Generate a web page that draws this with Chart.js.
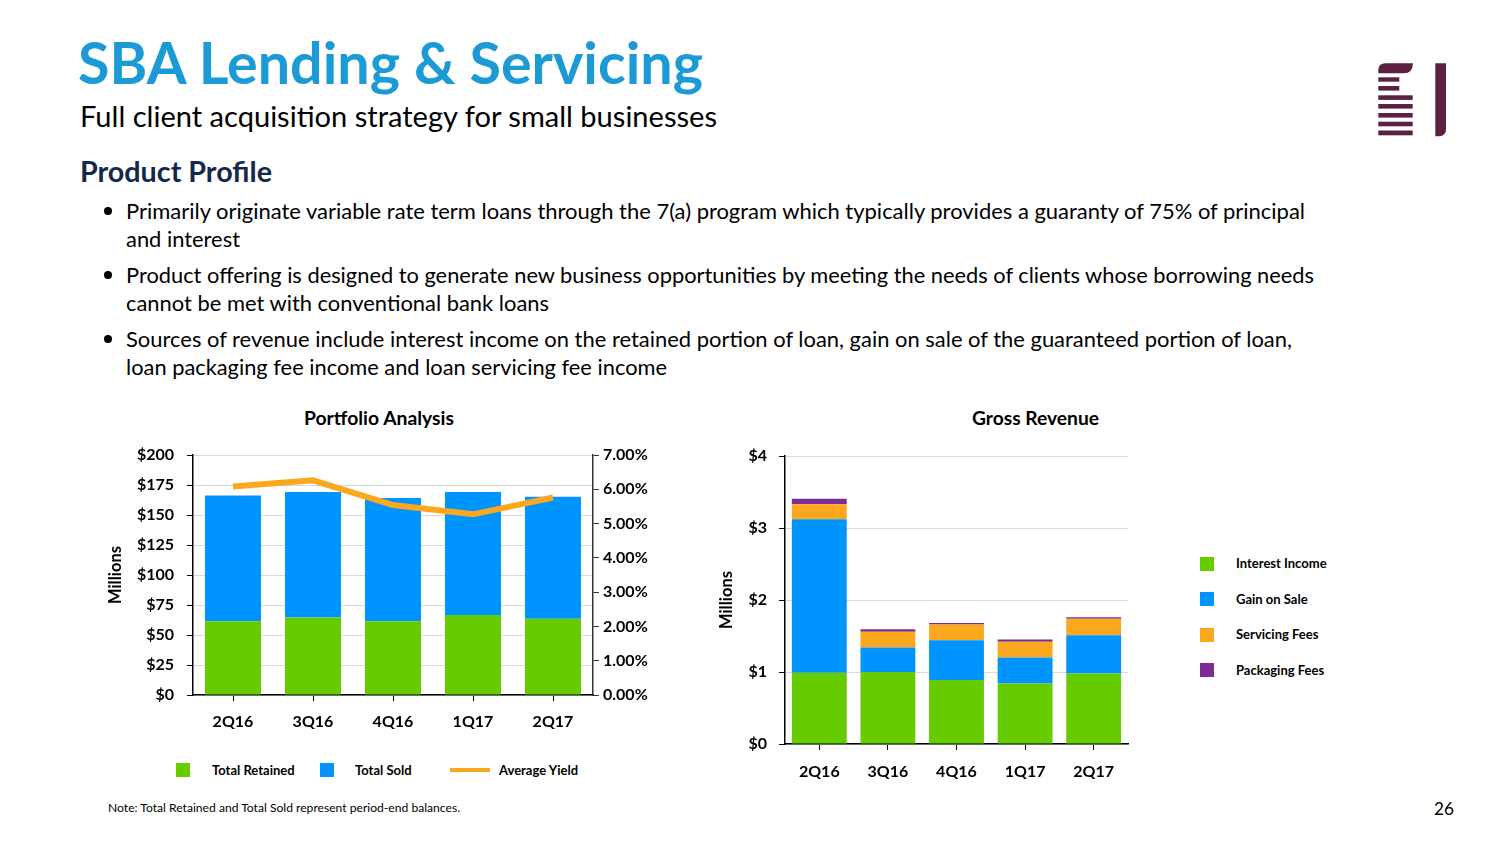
<!DOCTYPE html>
<html><head><meta charset="utf-8">
<script src="https://cdn.jsdelivr.net/npm/chart.js@4.4.1/dist/chart.umd.min.js"></script>
<style>
html,body{margin:0;padding:0;}
body{width:1504px;height:846px;background:#fff;position:relative;overflow:hidden;font-family:Lato,"Open Sans",sans-serif;color:#000;}
.t{position:absolute;white-space:nowrap;transform-origin:0 50%;line-height:1;}
.dot{position:absolute;width:7px;height:7px;border-radius:50%;background:#000;}
canvas{position:absolute;}
.lg{position:absolute;}
</style></head>
<body>
<div class="t" id="title" data-w="625" style="left:78px;top:33px;font-size:58px;font-weight:700;color:#1b9ad6;">SBA Lending &amp; Servicing</div>
<div class="t" data-w="637" style="left:80px;top:101px;font-size:29px;">Full client acquisition strategy for small businesses</div>
<div class="t" data-w="192" style="left:80px;top:157px;font-size:28px;font-weight:700;color:#14284b;">Product Profile</div>

<div class="dot" style="left:103.5px;top:206.5px;width:8px;height:8px"></div>
<div class="t" data-w="1179" style="left:126px;top:199.5px;font-size:21px;">Primarily originate variable rate term loans through the 7(a) program which typically provides a guaranty of 75% of principal</div>
<div class="t" data-w="114" style="left:126px;top:227.5px;font-size:21px;">and interest</div>
<div class="dot" style="left:103.5px;top:270.5px;width:8px;height:8px"></div>
<div class="t" data-w="1188" style="left:126px;top:263.5px;font-size:21px;">Product offering is designed to generate new business opportunities by meeting the needs of clients whose borrowing needs</div>
<div class="t" data-w="423" style="left:126px;top:291.5px;font-size:21px;">cannot be met with conventional bank loans</div>
<div class="dot" style="left:103.5px;top:334.5px;width:8px;height:8px"></div>
<div class="t" data-w="1166" style="left:126px;top:327.5px;font-size:21px;">Sources of revenue include interest income on the retained portion of loan, gain on sale of the guaranteed portion of loan,</div>
<div class="t" data-w="541" style="left:126px;top:355.5px;font-size:21px;">loan packaging fee income and loan servicing fee income</div>

<div class="t" data-w="150" style="left:304px;top:408px;font-size:19px;font-weight:700;">Portfolio Analysis</div>
<div class="t" data-w="127" style="left:972px;top:408px;font-size:19px;font-weight:700;">Gross Revenue</div>

<canvas id="c1" width="580" height="300" style="left:100px;top:440px;width:580px;height:300px"></canvas>
<canvas id="c2" width="460" height="350" style="left:700px;top:440px;width:460px;height:350px"></canvas>

<div id="leg1"></div>
<div id="leg2"></div>

<div class="t" data-w="352" style="left:108px;top:802px;font-size:11.5px;">Note: Total Retained and Total Sold represent period-end balances.</div>
<div class="t" data-w="20" style="left:1434px;top:799px;font-size:18px;">26</div>

<svg style="position:absolute;left:1370px;top:55px" width="90" height="90" viewBox="1370 55 90 90">
  <g fill="#5b2143">
    <path d="M1378.3 73.3 V70 Q1378.3 63.3 1385.5 63.3 H1413 Q1412.5 73.3 1404 73.3 Z"/>
    <rect x="1378.3" y="77.3" width="21" height="4.4"/>
    <rect x="1378.3" y="86" width="21" height="4.6"/>
    <rect x="1378.3" y="95.3" width="34.4" height="4.6"/>
    <rect x="1378.3" y="104" width="34.4" height="4.6"/>
    <rect x="1378.3" y="113" width="34.4" height="4.6"/>
    <rect x="1378.3" y="121.7" width="34.4" height="4.6"/>
    <rect x="1378.3" y="130.5" width="34.4" height="4.8"/>
    <path d="M1435.3 63.3 H1446 V129 Q1446 136.2 1439 136.2 H1435.3 Z"/>
  </g>
</svg>

<script>
// ---- data ----
const quarters = ['2Q16', '3Q16', '4Q16', '1Q17', '2Q17'];
const totalRetained = [61.5, 64.5, 61.5, 66.7, 63.6];
const totalSold = [104.8, 104.7, 102.6, 102.5, 101.6];
const averageYield = [6.08, 6.26, 5.54, 5.27, 5.76];
const interestIncome = [0.99, 1.00, 0.89, 0.84, 0.98];
const gainOnSale = [2.13, 0.34, 0.55, 0.36, 0.53];
const servicingFees = [0.21, 0.22, 0.22, 0.22, 0.23];
const packagingFees = [0.075, 0.035, 0.02, 0.03, 0.02];

const GREEN = '#66cc00', BLUE = '#0094ff', ORANGE = '#fba81f', PURPLE = '#7b2d91';
const FONT = 'Lato, "Open Sans", sans-serif';
const tickFont = {family: FONT, size: 16, weight: 'bold'};

Chart.defaults.font.family = FONT;
Chart.defaults.color = '#000';

function fixY(width) {
  return s => { s.width = width; s.paddingTop = 0; s.paddingBottom = 0; };
}

const c1 = new Chart(document.getElementById('c1'), {
  type: 'bar',
  data: {
    labels: quarters,
    datasets: [
      {type: 'line', label: 'Average Yield', data: averageYield, yAxisID: 'y2', borderColor: ORANGE, backgroundColor: ORANGE,
       borderWidth: 6, pointRadius: 0, tension: 0, order: 0, borderCapStyle: 'butt'},
      {label: 'Total Retained', data: totalRetained, backgroundColor: GREEN, stack: 's', order: 1},
      {label: 'Total Sold', data: totalSold, backgroundColor: BLUE, stack: 's', order: 1}
    ]
  },
  options: {
    responsive: false, animation: false,
    layout: {padding: {top: 15, left: 0, right: 0, bottom: 0}},
    plugins: {legend: {display: false}, tooltip: {enabled: false}},
    datasets: {bar: {barPercentage: 0.7, categoryPercentage: 1.0}},
    scales: {
      x: {stacked: true, offset: true,
          grid: {drawOnChartArea: false, offset: false, tickLength: 6, color: '#000', tickColor: '#000'},
          border: {color: '#000', width: 1.5},
          ticks: {font: tickFont, color: '#000', padding: 11, maxRotation: 0},
          afterFit: s => { s.height = 45; }},
      y: {stacked: true, min: 0, max: 200,
          ticks: {stepSize: 25, callback: v => '$' + v, font: tickFont, color: '#000', padding: 13},
          grid: {color: '#d9d9d9', tickColor: '#000', tickLength: 6},
          border: {color: '#000', width: 1.5},
          title: {display: true, text: 'Millions', font: {family: FONT, size: 16.5, weight: 'bold'}, color: '#000', padding: {top: 6, bottom: 0}},
          afterFit: fixY(93)},
      y2: {position: 'right', min: 0, max: 7,
          ticks: {stepSize: 1, callback: v => v.toFixed(2) + '%', font: tickFont, color: '#000', padding: 4},
          grid: {drawOnChartArea: false, tickLength: 6, color: '#333', tickColor: '#333'},
          border: {color: '#333', width: 1.5},
          afterFit: fixY(87)}
    }
  }
});

const c2 = new Chart(document.getElementById('c2'), {
  type: 'bar',
  data: {
    labels: quarters,
    datasets: [
      {label: 'Interest Income', data: interestIncome, backgroundColor: GREEN},
      {label: 'Gain on Sale', data: gainOnSale, backgroundColor: BLUE},
      {label: 'Servicing Fees', data: servicingFees, backgroundColor: ORANGE},
      {label: 'Packaging Fees', data: packagingFees, backgroundColor: PURPLE}
    ]
  },
  options: {
    responsive: false, animation: false,
    layout: {padding: {top: 16, left: 0, right: 32, bottom: 0}},
    plugins: {legend: {display: false}, tooltip: {enabled: false}},
    datasets: {bar: {barPercentage: 0.8, categoryPercentage: 1.0}},
    scales: {
      x: {stacked: true, offset: true,
          grid: {drawOnChartArea: false, offset: false, tickLength: 6, color: '#000', tickColor: '#000'},
          border: {color: '#000', width: 1.5},
          ticks: {font: tickFont, color: '#000', padding: 12, maxRotation: 0},
          afterFit: s => { s.height = 46; }},
      y: {stacked: true, min: 0, max: 4,
          ticks: {stepSize: 1, callback: v => '$' + v, font: tickFont, color: '#000', padding: 12},
          grid: {color: '#d9d9d9', tickColor: '#000', tickLength: 6},
          border: {color: '#000', width: 1.5},
          title: {display: true, text: 'Millions', font: {family: FONT, size: 16.5, weight: 'bold'}, color: '#000', padding: {top: 17, bottom: 0}},
          afterFit: fixY(85)}
    }
  }
});

// ---- legends built from chart datasets ----
function legendItem(parent, ds, x, textX, y, isLine) {
  const sw = document.createElement('div');
  sw.className = 'lg';
  if (isLine) {
    sw.style.cssText = `left:${x}px;top:${y - 2}px;width:40px;height:4px;background:${ds.borderColor}`;
  } else {
    sw.style.cssText = `left:${x}px;top:${y - 7}px;width:14px;height:14px;background:${ds.backgroundColor}`;
  }
  parent.appendChild(sw);
  const tx = document.createElement('div');
  tx.className = 't';
  tx.style.cssText = `left:${textX}px;top:${y - 6.5}px;font-size:13px;font-weight:700;`;
  tx.textContent = ds.label;
  parent.appendChild(tx);
}
const l1 = document.getElementById('leg1');
const d1 = c1.data.datasets;
legendItem(l1, d1[1], 176, 212, 770, false);
legendItem(l1, d1[2], 320, 355, 770, false);
legendItem(l1, d1[0], 450, 499, 770, true);
const l2 = document.getElementById('leg2');
const ys = [563.5, 599, 634.5, 670];
c2.data.datasets.forEach((ds, i) => legendItem(l2, ds, 1200, 1236, ys[i], false));

function fit() {
  document.querySelectorAll('.t[data-w]').forEach(el => {
    el.style.transform = 'none';
    const w = el.getBoundingClientRect().width;
    const target = parseFloat(el.dataset.w);
    if (w > 0) el.style.transform = `scaleX(${target / w})`;
  });
}
fit();
if (document.fonts && document.fonts.ready) document.fonts.ready.then(fit);
</script>
</body></html>
